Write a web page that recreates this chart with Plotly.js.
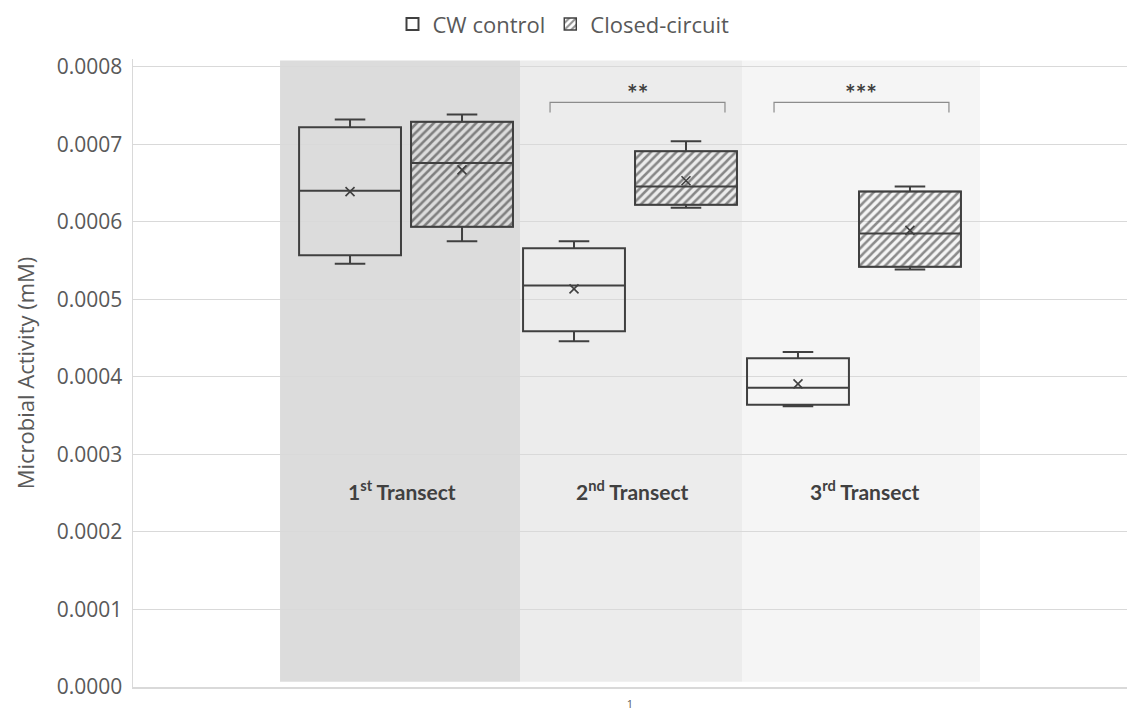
<!DOCTYPE html>
<html>
<head>
<meta charset="utf-8">
<script src="https://cdn.plot.ly/plotly-3.0.1.min.js"></script>
<style>html,body{margin:0;padding:0;background:#fff;}#chart{width:1127px;height:711px;}</style>
</head>
<body>
<div id="chart"></div>
<script>
// Transect positions (1st, 2nd, 3rd)
const transects = [1, 2, 3];
const transectLabels = ["1<sup>st</sup> Transect", "2<sup>nd</sup> Transect", "3<sup>rd</sup> Transect"];

// CW control box statistics (mM)
const cwLower  = [0.000546, 0.000446, 0.000362];
const cwQ1     = [0.000557, 0.000459, 0.000364];
const cwMedian = [0.000640, 0.000518, 0.000386];
const cwQ3     = [0.000722, 0.000566, 0.000424];
const cwUpper  = [0.000732, 0.000575, 0.000432];
const cwMean   = [0.000639, 0.0005135, 0.000391];

// Closed-circuit box statistics (mM)
const ccLower  = [0.000575, 0.000618, 0.0005385];
const ccQ1     = [0.0005935, 0.000622, 0.000542];
const ccMedian = [0.000676, 0.0006455, 0.000585];
const ccQ3     = [0.000729, 0.000691, 0.000639];
const ccUpper  = [0.0007385, 0.000704, 0.0006455];
const ccMean   = [0.000667, 0.000653, 0.000589];

// Significance marks
const sigTransects = [2, 3];
const sigLabels = ["**", "***"];

const off = 0.25, boxW = 0.455;
const cwX = transects.map(t => t - off);
const ccX = transects.map(t => t + off);
const dark = "#404040";

const traces = [
  {
    type: "bar", name: "Closed-circuit", legendrank: 2,
    x: ccX, base: ccQ1, y: ccQ3.map((v, i) => v - ccQ1[i]), width: boxW,
    marker: {color: "rgba(0,0,0,0)", line: {width: 1.5, color: dark},
             pattern: {shape: "/", fgcolor: "#222222", bgcolor: "rgba(0,0,0,0)", size: 6, solidity: 0.42, fillmode: "overlay"}},
    hoverinfo: "skip"
  },
  {
    type: "box", name: "CW control", legendrank: 1,
    x: cwX, q1: cwQ1, median: cwMedian, q3: cwQ3, lowerfence: cwLower, upperfence: cwUpper,
    width: boxW, whiskerwidth: 0.3, boxpoints: false,
    fillcolor: "rgba(255,255,255,0)", line: {color: dark, width: 2}
  },
  {
    type: "box", name: "Closed-circuit", showlegend: false,
    x: ccX, q1: ccQ1, median: ccMedian, q3: ccQ3, lowerfence: ccLower, upperfence: ccUpper,
    width: boxW, whiskerwidth: 0.3, boxpoints: false,
    fillcolor: "rgba(255,255,255,0)", line: {color: dark, width: 2}
  },
  {
    type: "scatter", mode: "markers", showlegend: false, hoverinfo: "skip",
    x: cwX.concat(ccX), y: cwMean.concat(ccMean),
    marker: {symbol: "x-thin", size: 9, line: {width: 1.6, color: dark}, color: dark}
  }
];

const shapes = [
  {type: "rect", xref: "x", yref: "y", x0: 0.4375, x1: 1.509, y0: 0.0000068, y1: 0.000808, fillcolor: "#dcdcdc", line: {width: 0}, layer: "below"},
  {type: "rect", xref: "x", yref: "y", x0: 1.509, x1: 2.5, y0: 0.0000068, y1: 0.000808, fillcolor: "#ececec", line: {width: 0}, layer: "below"},
  {type: "rect", xref: "x", yref: "y", x0: 2.5, x1: 3.5625, y0: 0.0000068, y1: 0.000808, fillcolor: "#f5f5f5", line: {width: 0}, layer: "below"}
];
const annotations = [];
sigTransects.forEach((t, i) => {
  const xl = t - 0.357, xr = t + 0.424;
  shapes.push({type: "path", xref: "x", yref: "y",
    path: `M ${xl} 0.000741 L ${xl} 0.000754 L ${xr} 0.000754 L ${xr} 0.000741`,
    line: {color: "#8c8c8c", width: 1.2}});
  annotations.push({x: (xl + xr) / 2, y: 0.000772, xref: "x", yref: "y", text: "<b>" + sigLabels[i] + "</b>",
    showarrow: false, yshift: -5, font: {family: "Lato", size: 25, color: dark}});
});
const labelX = [0.98, 2.01, 3.05];
transects.forEach((t, i) => {
  annotations.push({x: labelX[i], y: 0.000254, xref: "x", yref: "y", text: "<b>" + transectLabels[i] + "</b>",
    showarrow: false, font: {family: "Lato", size: 21, color: dark}});
});

const layout = {
  width: 1127, height: 711,
  margin: {l: 133, r: 0, t: 59, b: 24},
  paper_bgcolor: "#fff", plot_bgcolor: "#fff",
  font: {family: "Open Sans", color: "#595959"},
  showlegend: true,
  legend: {orientation: "h", xref: "container", yref: "container", x: 0.5, xanchor: "center", y: 0.966, yanchor: "middle",
           font: {size: 22, color: "#595959"}, itemwidth: 30, bgcolor: "rgba(0,0,0,0)"},
  xaxis: {range: [-0.219, 4.219], tickvals: [2], ticktext: ["1"], showgrid: false, zeroline: false,
          showline: true, linecolor: "#d9d9d9", linewidth: 1.5, ticks: "", ticklabelstandoff: 6,
          tickfont: {size: 11, color: "#595959"}},
  yaxis: {range: [0, 0.00081], tickvals: [0, 0.0001, 0.0002, 0.0003, 0.0004, 0.0005, 0.0006, 0.0007, 0.0008],
          tickformat: ".4f", showgrid: true, gridcolor: "#d9d9d9", gridwidth: 1, zeroline: false,
          showline: true, linecolor: "#d9d9d9", linewidth: 1.5, ticks: "", ticklabelstandoff: 5,
          tickfont: {size: 21, color: "#595959"},
          title: {text: "Microbial Activity (mM)", font: {family: "Open Sans", size: 22, color: "#595959"}, standoff: 16}},
  shapes: shapes,
  annotations: annotations
};

Plotly.newPlot("chart", traces, layout, {displayModeBar: false, staticPlot: true});
</script>
</body>
</html>
